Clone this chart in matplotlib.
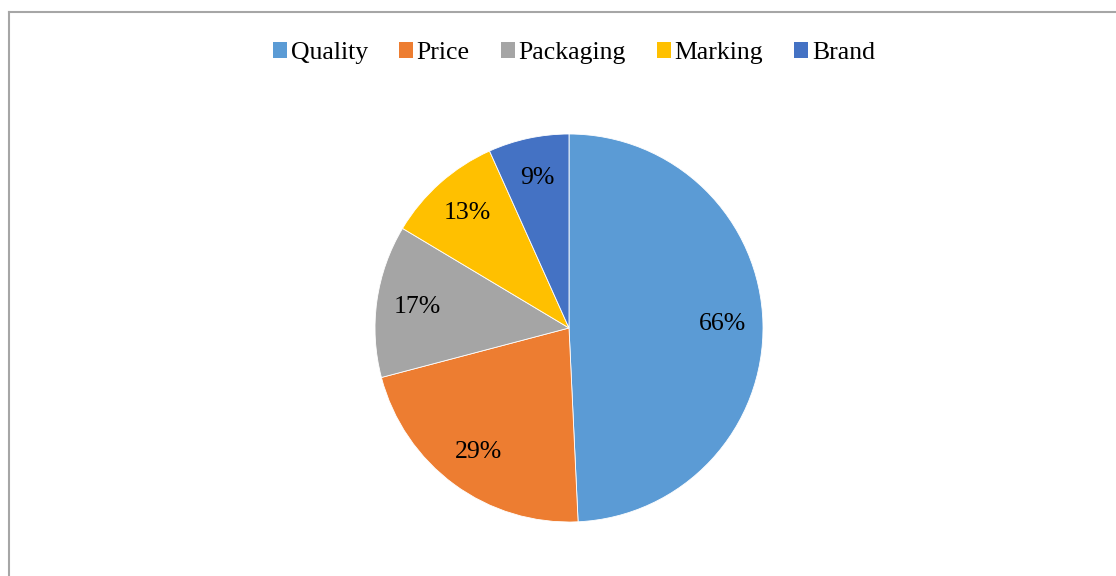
import matplotlib
matplotlib.use('Agg')
import matplotlib.pyplot as plt
from matplotlib.lines import Line2D
from matplotlib.patches import Patch

plt.rcParams['font.family'] = ['Liberation Serif', 'DejaVu Serif']

# data
categories = ['Quality', 'Price', 'Packaging', 'Marking', 'Brand']
values = [66, 29, 17, 13, 9]
pct_labels = ['66%', '29%', '17%', '13%', '9%']
colors = ['#5B9BD5', '#ED7D31', '#A5A5A5', '#FFC000', '#4472C4']

fig = plt.figure(figsize=(11.16, 5.76), dpi=100)

# chart area border (left and top only visible)
fig.add_artist(Line2D([9 / 1116, 9 / 1116], [0, 1 - 12 / 576], color='#a6a6a6', lw=1.5))
fig.add_artist(Line2D([9 / 1116, 1], [1 - 12 / 576, 1 - 12 / 576], color='#a6a6a6', lw=1.5))

ax = fig.add_axes([375 / 1116, 54 / 576, 388 / 1116, 388 / 576])
lab_iter = iter(pct_labels)
wedges, _, autotexts = ax.pie(
    values, colors=colors, startangle=90, counterclock=False,
    autopct=lambda p: next(lab_iter), pctdistance=0.79,
    wedgeprops=dict(edgecolor='white', linewidth=0.6),
    textprops=dict(fontsize=18.5, color='black'),
)
ax.set_xlim(-1, 1)
ax.set_ylim(-1, 1)
ax.set_aspect('equal')
ax.axis('off')

handles = [Patch(facecolor=c, edgecolor='none') for c in colors]
fig.legend(handles, categories, loc='center', bbox_to_anchor=(574 / 1116, 1 - 53 / 576),
           ncol=5, frameon=False, fontsize=18.5, handlelength=0.55, handleheight=0.55,
           handletextpad=0.15, columnspacing=1.2)

fig.savefig('out.png', dpi=100)
